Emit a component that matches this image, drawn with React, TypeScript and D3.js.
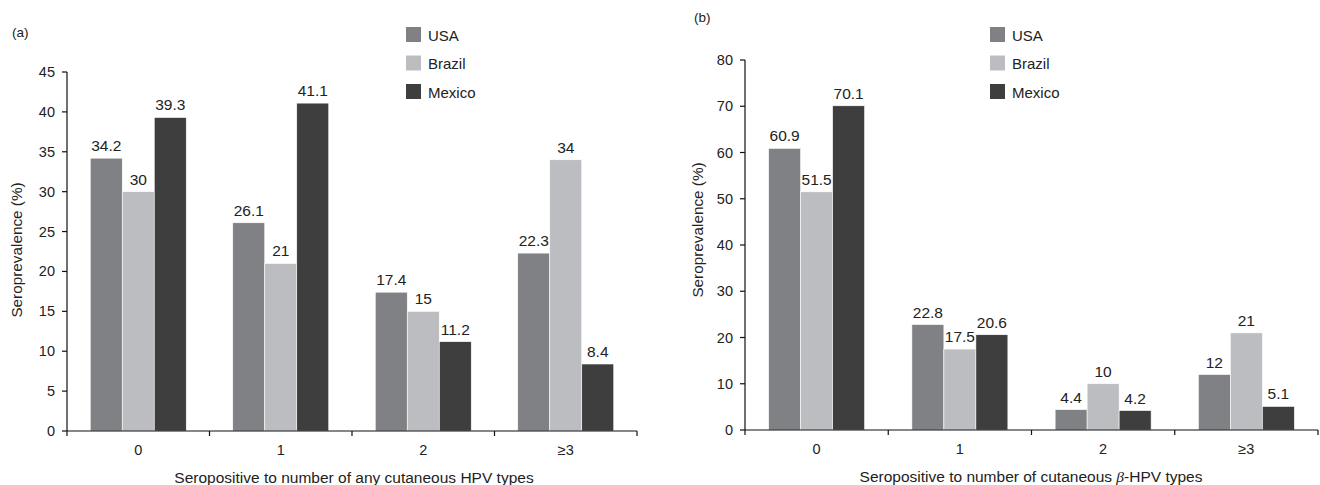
import React from "react";
import * as d3 from "d3";

const categories = ["0", "1", "2", "≥3"];
const seriesNames = ["USA", "Brazil", "Mexico"];
const seriesColors = ["#808185", "#bcbdc1", "#3e3e3e"];

const anyUSA = [34.2, 26.1, 17.4, 22.3];
const anyBrazil = [30, 21, 15, 34];
const anyMexico = [39.3, 41.1, 11.2, 8.4];

const betaUSA = [60.9, 22.8, 4.4, 12];
const betaBrazil = [51.5, 17.5, 10, 21];
const betaMexico = [70.1, 20.6, 4.2, 5.1];

const ticksA = [0, 5, 10, 15, 20, 25, 30, 35, 40, 45];
const ticksB = [0, 10, 20, 30, 40, 50, 60, 70, 80];

const FONT = "'Liberation Sans', Arial, Helvetica, sans-serif";

type PanelProps = {
  tag: string;
  tagX: number;
  tagY: number;
  x0: number;
  x1: number;
  yBottom: number;
  yTop: number;
  yMax: number;
  ticks: number[];
  data: number[][];
  xTitle: React.ReactNode;
  xTitleX: number;
  yTitleX: number;
  yTitleY: number;
  legendX: number;
};

function Panel(p: PanelProps) {
  const x = d3.scaleBand<string>().domain(categories).range([p.x0, p.x1]).paddingInner(0).paddingOuter(0);
  const bw = x.bandwidth();
  const groupW = 96;
  const step = groupW / 3;
  const pOuter = (bw / step - 3) / 2;
  const xi = d3.scaleBand<string>().domain(seriesNames).range([0, bw]).paddingInner(0).paddingOuter(pOuter);
  const y = d3.scaleLinear().domain([0, p.yMax]).range([p.yBottom, p.yTop]);
  const boundaries = [p.x0, ...categories.map((c) => (x(c) as number) + bw)];
  return (
    <g fontFamily={FONT} fill="#222">
      <text x={p.tagX} y={p.tagY} fontSize={13.5}>{p.tag}</text>
      {categories.map((c, ci) => (
        <g key={c}>
          {seriesNames.map((s, si) => {
            const v = p.data[si][ci];
            const bx = (x(c) as number) + (xi(s) as number);
            return (
              <g key={s}>
                <rect x={bx} y={y(v)} width={xi.bandwidth()} height={p.yBottom - y(v)} fill={seriesColors[si]} stroke="#ffffff" strokeWidth={0.6} />
                <text x={bx + xi.bandwidth() / 2} y={y(v) - 7} textAnchor="middle" fontSize={15.5} fill="#222">{String(v)}</text>
              </g>
            );
          })}
        </g>
      ))}
      <line x1={p.x0} x2={p.x0} y1={p.yTop} y2={p.yBottom} stroke="#111" strokeWidth={1.2} />
      {p.ticks.map((t) => (
        <g key={t}>
          <line x1={p.x0 - 5} x2={p.x0} y1={y(t)} y2={y(t)} stroke="#111" strokeWidth={1.2} />
          <text x={p.x0 - 12} y={y(t) + 5} textAnchor="end" fontSize={14.5}>{t}</text>
        </g>
      ))}
      <line x1={p.x0} x2={p.x1} y1={p.yBottom} y2={p.yBottom} stroke="#111" strokeWidth={1.2} />
      {boundaries.map((b, i) => (
        <line key={i} x1={b} x2={b} y1={p.yBottom} y2={p.yBottom + 5} stroke="#111" strokeWidth={1.2} />
      ))}
      {categories.map((c) => (
        <text key={c} x={(x(c) as number) + bw / 2} y={p.yBottom + 24} textAnchor="middle" fontSize={14.5}>{c}</text>
      ))}
      <text x={p.xTitleX} y={p.yBottom + 52} textAnchor="middle" fontSize={15.5}>{p.xTitle}</text>
      <text transform={`translate(${p.yTitleX},${p.yTitleY}) rotate(-90)`} textAnchor="middle" fontSize={15.3}>Seroprevalence (%)</text>
      {seriesNames.map((s, si) => (
        <g key={s}>
          <rect x={p.legendX} y={27 + si * 28.5} width={15} height={15} fill={seriesColors[si]} />
          <text x={p.legendX + 22} y={40.5 + si * 28.5} fontSize={15}>{s}</text>
        </g>
      ))}
    </g>
  );
}

export default function App() {
  return (
    <svg width={1320} height={485} style={{ position: "absolute", left: 0, top: 0, background: "#fff" }}>
      <rect x={0} y={0} width={1320} height={485} fill="#fff" />
      <Panel
        tag="(a)"
        tagX={12}
        tagY={37}
        x0={67}
        x1={637}
        yBottom={431}
        yTop={72}
        yMax={45}
        ticks={ticksA}
        data={[anyUSA, anyBrazil, anyMexico]}
        xTitle="Seropositive to number of any cutaneous HPV types"
        xTitleX={354}
        yTitleX={22}
        yTitleY={250}
        legendX={406}
      />
      <Panel
        tag="(b)"
        tagX={694}
        tagY={22}
        x0={745}
        x1={1318}
        yBottom={430}
        yTop={60}
        yMax={80}
        ticks={ticksB}
        data={[betaUSA, betaBrazil, betaMexico]}
        xTitle={<>Seropositive to number of cutaneous <tspan fontStyle="italic" fontFamily="'Liberation Serif', serif">β</tspan>-HPV types</>}
        xTitleX={1031}
        yTitleX={703}
        yTitleY={230}
        legendX={990}
      />
    </svg>
  );
}
